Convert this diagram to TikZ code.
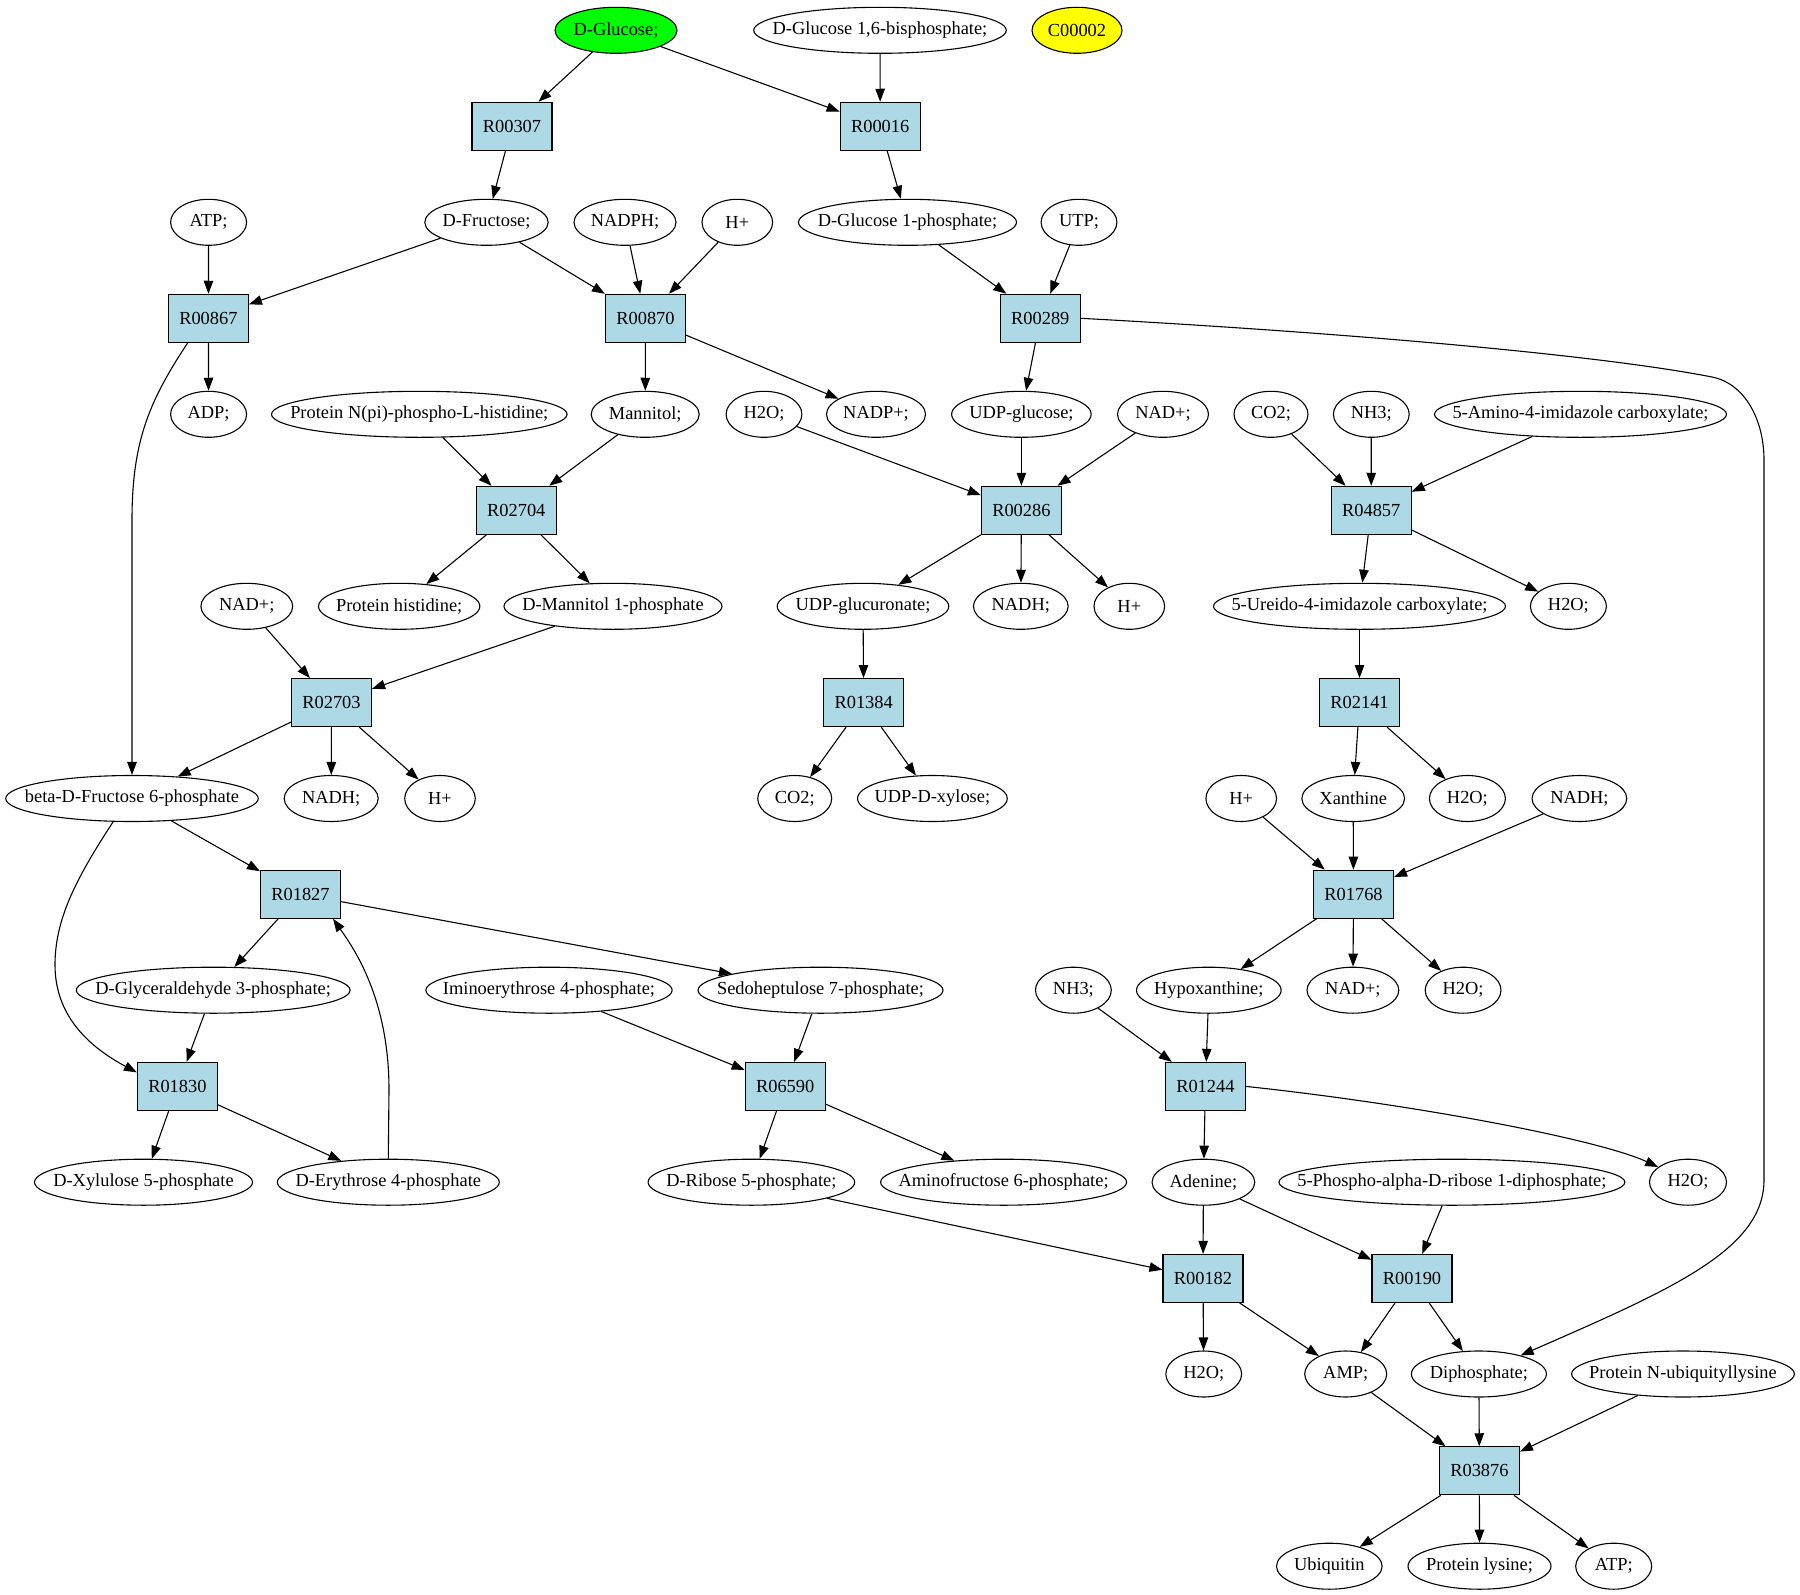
\documentclass[tikz,border=0pt]{standalone}
\usepackage{fontspec}
\setmainfont{Liberation Serif}
\usetikzlibrary{shapes.geometric,arrows.meta}
\definecolor{lblue}{RGB}{173,216,230}
\definecolor{gvgreen}{RGB}{0,255,0}
\definecolor{gvyellow}{RGB}{255,255,0}
\newcommand\zw[1]{\makebox[0pt]{#1}}
\begin{document}
\begin{tikzpicture}[x=1pt,y=-1pt,
  every node/.style={font=\fontsize{18.4pt}{22pt}\selectfont},
  ell/.style={ellipse, draw, line width=1.1pt, inner sep=0pt, minimum height=46pt, minimum width=#1},
  rbox/.style={rectangle, draw, fill=lblue, line width=1.1pt, minimum width=80pt, minimum height=48pt, inner sep=0pt},
  arr/.style={-{Triangle[length=13pt,width=9.5pt]}, line width=1.1pt}]
\useasboundingbox (0,0) rectangle (1800,1595);
% row 0
\node[ell=122pt, fill=gvgreen] (glc) at (616,30.3) {\zw{D-Glucose;}};
\node[ell=252.6pt] (g16bp) at (880,30.3) {\zw{D-Glucose 1,6-bisphosphate;}};
\node[ell=90pt, fill=gvyellow] (c2) at (1077,30.3) {\zw{C00002}};
% row 1
\node[rbox] (r307) at (512,126.3) {R00307};
\node[rbox] (r016) at (880.2,126.3) {R00016};
% row 2
\node[ell=76pt] (atp1) at (208.6,222.3) {\zw{ATP;}};
\node[ell=123.4pt] (fru) at (486.5,222.3) {\zw{D-Fructose;}};
\node[ell=102pt] (nadph) at (625,222.3) {\zw{NADPH;}};
\node[ell=70.6pt] (hp1) at (737.3,222.3) {\zw{H+}};
\node[ell=218pt] (g1p) at (907.5,222.3) {\zw{D-Glucose 1-phosphate;}};
\node[ell=75.8pt] (utp) at (1079,222.3) {\zw{UTP;}};
% row 3
\node[rbox] (r867) at (208.4,318.3) {R00867};
\node[rbox] (r870) at (645.5,318.3) {R00870};
\node[rbox] (r289) at (1040.3,318.3) {R00289};
% row 4
\node[ell=76pt] (adp) at (208.6,414.3) {\zw{ADP;}};
\node[ell=295.6pt] (pnpi) at (419.3,414.3) {\zw{Protein N(pi)-phospho-L-histidine;}};
\node[ell=108pt] (mann) at (645.2,414.3) {\zw{Mannitol;}};
\node[ell=75.8pt] (h2oa) at (764,414.3) {\zw{H2O;}};
\node[ell=99pt] (nadpp) at (876,414.3) {\zw{NADP+;}};
\node[ell=139.5pt] (udpg) at (1021.4,414.3) {\zw{UDP-glucose;}};
\node[ell=91pt] (nada) at (1163,414.3) {\zw{NAD+;}};
\node[ell=74pt] (co2a) at (1271,414.3) {\zw{CO2;}};
\node[ell=75.8pt] (nh3a) at (1371.3,414.3) {\zw{NH3;}};
\node[ell=292pt] (aic) at (1580.5,414.3) {\zw{5-Amino-4-imidazole carboxylate;}};
% row 5
\node[rbox] (r2704) at (516.3,510.3) {R02704};
\node[rbox] (r286) at (1021.4,510.3) {R00286};
\node[rbox] (r4857) at (1371.2,510.3) {R04857};
% row 6
\node[ell=91.8pt] (nadb) at (246.8,606.3) {\zw{NAD+;}};
\node[ell=161.3pt] (phis) at (399.2,606.3) {\zw{Protein histidine;}};
\node[ell=218pt] (m1p) at (613,606.3) {\zw{D-Mannitol 1-phosphate}};
\node[ell=171.6pt] (udpgn) at (863,606.3) {\zw{UDP-glucuronate;}};
\node[ell=94.7pt] (nadha) at (1020.8,606.3) {\zw{NADH;}};
\node[ell=70.6pt] (hp2) at (1129.3,606.3) {\zw{H+}};
\node[ell=292pt] (uic) at (1359.5,606.3) {\zw{5-Ureido-4-imidazole carboxylate;}};
\node[ell=76pt] (h2ob) at (1568.4,606.3) {\zw{H2O;}};
% row 7
\node[rbox] (r2703) at (331.5,702.6) {R02703};
\node[rbox] (r1384) at (863.7,702.6) {R01384};
\node[rbox] (r2141) at (1359.5,702.6) {R02141};
% row 8
\node[ell=252.6pt] (bf6p) at (132,798.5) {\zw{beta-D-Fructose 6-phosphate}};
\node[ell=94pt] (nadhb) at (331.2,798.5) {\zw{NADH;}};
\node[ell=70.6pt] (hp3) at (440,798.5) {\zw{H+}};
\node[ell=74pt] (co2b) at (794.7,798.5) {\zw{CO2;}};
\node[ell=149.7pt] (udpx) at (932.4,798.5) {\zw{UDP-D-xylose;}};
\node[ell=70.6pt] (hp4) at (1241.2,798.5) {\zw{H+}};
\node[ell=102.7pt] (xan) at (1353.2,798.5) {\zw{Xanthine}};
\node[ell=76pt] (h2oc) at (1467.4,798.5) {\zw{H2O;}};
\node[ell=94.7pt] (nadhc) at (1579.4,798.5) {\zw{NADH;}};
% row 9
\node[rbox] (r1827) at (300.5,894.2) {R01827};
\node[rbox] (r1768) at (1353.5,894.2) {R01768};
% row 10
\node[ell=273.8pt] (gap) at (213.2,990.2) {\zw{D-Glyceraldehyde 3-phosphate;}};
\node[ell=246.3pt] (imino) at (549,990.2) {\zw{Iminoerythrose 4-phosphate;}};
\node[ell=245pt] (sedo) at (820.5,990.2) {\zw{Sedoheptulose 7-phosphate;}};
\node[ell=75.8pt] (nh3b) at (1073.4,990.2) {\zw{NH3;}};
\node[ell=144.6pt] (hypox) at (1208.8,990.2) {\zw{Hypoxanthine;}};
\node[ell=91.8pt] (nadc) at (1352.9,990.2) {\zw{NAD+;}};
\node[ell=75.8pt] (h2od) at (1463.1,990.2) {\zw{H2O;}};
% row 11
\node[rbox] (r1830) at (177.4,1086.4) {R01830};
\node[rbox] (r6590) at (785.2,1086.4) {R06590};
\node[rbox] (r1244) at (1205.4,1086.4) {R01244};
% row 12
\node[ell=218pt] (xu5p) at (143.5,1182.2) {\zw{D-Xylulose 5-phosphate}};
\node[ell=222pt] (e4p) at (388.3,1182.2) {\zw{D-Erythrose 4-phosphate}};
\node[ell=206.6pt] (r5p) at (751.4,1182.2) {\zw{D-Ribose 5-phosphate;}};
\node[ell=246pt] (af6p) at (1003.6,1182.2) {\zw{Aminofructose 6-phosphate;}};
\node[ell=102.7pt] (ade) at (1203.4,1182.2) {\zw{Adenine;}};
\node[ell=346pt] (prpp) at (1451.9,1182.2) {\zw{5-Phospho-alpha-D-ribose 1-diphosphate;}};
\node[ell=77pt] (h2oe) at (1688,1182.2) {\zw{H2O;}};
% row 13
\node[rbox] (r182) at (1203,1278.4) {R00182};
\node[rbox] (r190) at (1412,1278.4) {R00190};
% row 14
\node[ell=75.8pt] (h2of) at (1203.7,1374) {\zw{H2O;}};
\node[ell=82pt] (amp) at (1345.7,1374) {\zw{AMP;}};
\node[ell=135pt] (dip) at (1478.9,1374) {\zw{Diphosphate;}};
\node[ell=222.7pt] (pnub) at (1683,1374) {\zw{Protein N-ubiquityllysine}};
% row 15
\node[rbox] (r3876) at (1479.4,1470.8) {R03876};
% row 16
\node[ell=105.6pt] (ubq) at (1329.3,1566.2) {\zw{Ubiquitin}};
\node[ell=143pt] (plys) at (1479.5,1566.2) {\zw{Protein lysine;}};
\node[ell=76pt] (atp2) at (1613.7,1566.2) {\zw{ATP;}};

% edges
\draw[arr] (glc) -- (r307);
\draw[arr] (glc) -- (r016);
\draw[arr] (g16bp) -- (r016);
\draw[arr] (r307) -- (fru);
\draw[arr] (r016) -- (g1p);
\draw[arr] (atp1) -- (r867);
\draw[arr] (fru) -- (r867);
\draw[arr] (fru) -- (r870);
\draw[arr] (nadph) -- (r870);
\draw[arr] (hp1) -- (r870);
\draw[arr] (g1p) -- (r289);
\draw[arr] (utp) -- (r289);
\draw[arr] (r867) -- (adp);
\draw[arr] ([xshift=-20.7pt]r867.south) .. controls (150,400) and (132,440) .. (132,520) -- (bf6p);
\draw[arr] (r870) -- (mann);
\draw[arr] (r870) -- (nadpp);
\draw[arr] (r289) -- (udpg);
\draw[arr] (r289.east) .. controls (1350,333) and (1600,355) .. (1712,377)
  .. controls (1745,383.5) and (1764,420) .. (1764,460) -- (1764,1180)
  .. controls (1764,1250) and (1670,1290) .. (dip.24);
\draw[arr] (pnpi) -- (r2704);
\draw[arr] (mann) -- (r2704);
\draw[arr] (h2oa) -- (r286);
\draw[arr] (udpg) -- (r286);
\draw[arr] (nada) -- (r286);
\draw[arr] (co2a) -- (r4857);
\draw[arr] (nh3a) -- (r4857);
\draw[arr] (aic) -- (r4857);
\draw[arr] (r2704) -- (phis);
\draw[arr] (r2704) -- (m1p);
\draw[arr] (r286) -- (udpgn);
\draw[arr] (r286) -- (nadha);
\draw[arr] (r286) -- (hp2);
\draw[arr] (r4857) -- (uic);
\draw[arr] (r4857) -- (h2ob);
\draw[arr] (nadb) -- (r2703);
\draw[arr] (m1p) -- (r2703);
\draw[arr] (udpgn) -- (r1384);
\draw[arr] (uic) -- (r2141);
\draw[arr] (r2703) -- (bf6p);
\draw[arr] (r2703) -- (nadhb);
\draw[arr] (r2703) -- (hp3);
\draw[arr] (r1384) -- (co2b);
\draw[arr] (r1384) -- (udpx);
\draw[arr] (r2141) -- (xan);
\draw[arr] (r2141) -- (h2oc);
\draw[arr] (bf6p) -- (r1827);
\draw[arr] (bf6p.231) .. controls (75,880) and (55,920) .. (55,965)
  .. controls (55,1020) and (95,1050) .. ([yshift=14pt]r1830.west);
\draw[arr] (hp4) -- (r1768);
\draw[arr] (xan) -- (r1768);
\draw[arr] (nadhc) -- (r1768);
\draw[arr] (r1827) -- (gap);
\draw[arr] (r1827) -- (sedo);
\draw[arr] (e4p.north) -- (389,1090) .. controls (389,1000) and (355,950) .. ([xshift=32.5pt]r1827.south);
\draw[arr] (r1768) -- (hypox);
\draw[arr] (r1768) -- (nadc);
\draw[arr] (r1768) -- (h2od);
\draw[arr] (gap) -- (r1830);
\draw[arr] (imino) -- (r6590);
\draw[arr] (sedo) -- (r6590);
\draw[arr] (nh3b) -- (r1244);
\draw[arr] (hypox) -- (r1244);
\draw[arr] (r1830) -- (xu5p);
\draw[arr] (r1830) -- (e4p);
\draw[arr] (r6590) -- (r5p);
\draw[arr] (r6590) -- (af6p);
\draw[arr] (r1244) -- (ade);
\draw[arr] (r1244.east) .. controls (1420,1105) and (1600,1140) .. (h2oe.153);
\draw[arr] (r5p) -- (r182);
\draw[arr] (ade) -- (r182);
\draw[arr] (ade) -- (r190);
\draw[arr] (prpp) -- (r190);
\draw[arr] (r182) -- (h2of);
\draw[arr] (r182) -- (amp);
\draw[arr] (r190) -- (amp);
\draw[arr] (r190) -- (dip);
\draw[arr] (amp) -- (r3876);
\draw[arr] (dip) -- (r3876);
\draw[arr] (pnub) -- (r3876);
\draw[arr] (r3876) -- (ubq);
\draw[arr] (r3876) -- (plys);
\draw[arr] (r3876) -- (atp2);
\end{tikzpicture}
\end{document}
